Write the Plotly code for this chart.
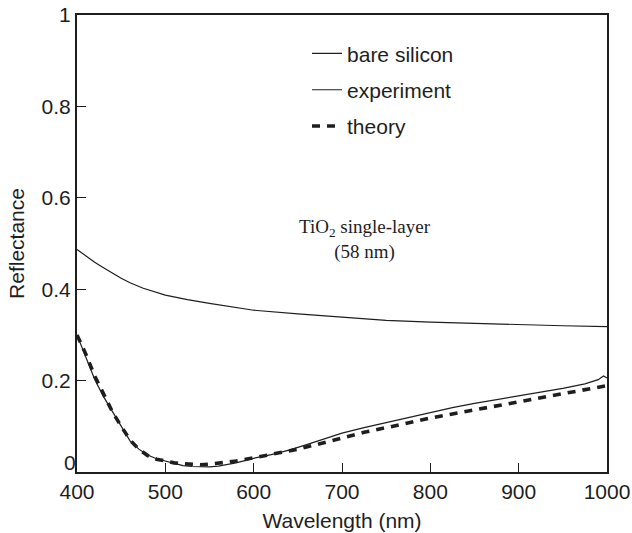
import plotly.graph_objects as go

# ---- data ----
wl_si = [400, 410, 420, 430, 440, 450, 460, 475, 500, 525, 550, 575, 600, 650, 700, 750, 800, 850, 900, 950, 1000]
r_si = [0.487, 0.472, 0.459, 0.447, 0.435, 0.424, 0.414, 0.402, 0.387, 0.377, 0.369, 0.361, 0.354, 0.346, 0.339, 0.332, 0.328, 0.325, 0.322, 0.320, 0.318]

wl_exp = [400, 410, 420, 430, 440, 450, 460, 470, 480, 490, 500, 510, 520, 530, 540, 550, 560, 570, 580, 590, 600,
          620, 640, 660, 680, 700, 725, 750, 775, 800, 825, 850, 875, 900, 925, 950, 975, 990, 996, 1000]
r_exp = [0.300, 0.252, 0.203, 0.165, 0.132, 0.098, 0.068, 0.050, 0.037, 0.029, 0.024, 0.018, 0.014, 0.012, 0.011, 0.011,
         0.013, 0.016, 0.020, 0.025, 0.030, 0.038, 0.048, 0.060, 0.072, 0.085, 0.097, 0.108, 0.120, 0.131, 0.141, 0.150,
         0.158, 0.166, 0.174, 0.183, 0.193, 0.202, 0.210, 0.206]

wl_th = [400, 410, 420, 430, 440, 450, 460, 470, 480, 490, 500, 510, 520, 530, 540, 550, 560, 580, 600, 625, 650, 675,
         700, 725, 750, 775, 800, 825, 850, 875, 900, 925, 950, 975, 1000]
r_th = [0.300, 0.258, 0.210, 0.170, 0.132, 0.100, 0.070, 0.050, 0.036, 0.028, 0.023, 0.020, 0.018, 0.017, 0.016, 0.017,
        0.019, 0.024, 0.031, 0.040, 0.050, 0.062, 0.075, 0.087, 0.097, 0.108, 0.118, 0.127, 0.136, 0.144, 0.152, 0.161,
        0.171, 0.180, 0.189]

x_ticks = [400, 500, 600, 700, 800, 900, 1000]
y_ticks = [0, 0.2, 0.4, 0.6, 0.8, 1]
y_ticktext = ["", "0.2", "0.4", "0.6", "0.8", "1"]

ink = "#1e1e1e"
sans = "Liberation Sans, Arial, sans-serif"
serif = "Liberation Serif, Times New Roman, serif"

fig = go.Figure()
fig.add_trace(go.Scatter(x=wl_si, y=r_si, mode="lines", name="bare silicon",
                         line=dict(color=ink, width=1.2), legendgroup="a"))
fig.add_trace(go.Scatter(x=wl_exp, y=r_exp, mode="lines", name="experiment",
                         line=dict(color=ink, width=1.2), legendgroup="b"))
fig.add_trace(go.Scatter(x=wl_th, y=r_th, mode="lines", name="theory",
                         line=dict(color=ink, width=3.6, dash="8px,7px"), legendgroup="c"))

fig.add_annotation(x=726, y=0.508, xref="x", yref="y",
                   text="TiO<sub>2</sub> single-layer<br>(58 nm)", showarrow=False,
                   font=dict(family=serif, size=19, color=ink), align="center")
fig.add_annotation(x=0, y=0, xref="paper", yref="y", text="0", showarrow=False,
                   xanchor="right", yanchor="middle", xshift=1, yshift=10,
                   font=dict(family=sans, size=21, color=ink))

fig.update_layout(
    width=632, height=533,
    margin=dict(l=77, r=25, t=15, b=61),
    paper_bgcolor="white", plot_bgcolor="white",
    font=dict(family=sans, size=21, color=ink),
    showlegend=True,
    legend=dict(x=0.434, y=0.96, xanchor="left", yanchor="top", bgcolor="rgba(0,0,0,0)",
                font=dict(family=sans, size=21, color=ink), tracegroupgap=6),
    xaxis=dict(range=[400, 1000], tickvals=x_ticks, ticks="inside", ticklen=9, tickwidth=1,
               tickcolor=ink, showline=True, linecolor=ink, linewidth=2, mirror=True,
               showgrid=False, zeroline=False, tickfont=dict(size=21), automargin=False,
               title=dict(text="Wavelength (nm)", font=dict(size=21), standoff=11)),
    yaxis=dict(range=[0, 1], tickvals=y_ticks, ticktext=y_ticktext, ticks="inside", ticklen=9,
               tickwidth=1, tickcolor=ink, showline=True, linecolor=ink, linewidth=2, mirror=True,
               showgrid=False, zeroline=False, tickfont=dict(size=21), automargin=False,
               title=dict(text="Reflectance", font=dict(size=21), standoff=11)),
)

fig.write_html("out.html", config={"displayModeBar": False},
               post_script="document.body.style.margin='0';document.body.style.overflow='hidden';")
